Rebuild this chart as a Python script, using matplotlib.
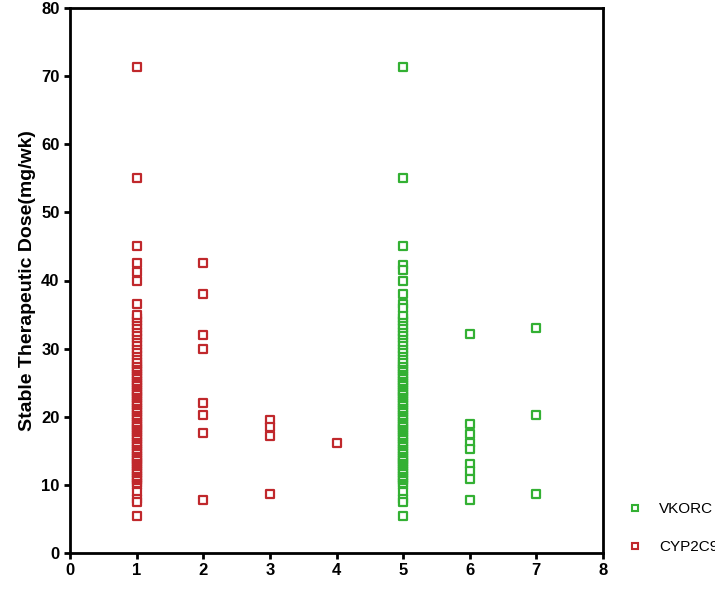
import matplotlib
matplotlib.use("Agg")
import matplotlib.pyplot as plt
from matplotlib.lines import Line2D

plt.rcParams['font.family'] = ['Liberation Sans', 'DejaVu Sans']

dense = [10, 10.3, 10.7, 11, 11.3, 11.7, 12, 12.3, 12.7, 13, 13.3, 13.7, 14, 14.3, 14.7,
         15, 15.3, 15.7, 16, 16.3, 16.7, 17, 17.3, 17.7, 18, 18.3, 18.7, 19, 19.3, 19.7,
         20, 20.3, 20.7, 21, 21.3, 21.7, 22, 22.3, 22.7, 23, 23.3, 23.7, 24, 24.3, 24.7,
         25, 25.3, 25.7, 26, 26.3, 26.7, 27, 27.3, 27.7, 28, 28.5, 29, 29.5, 30, 30.5,
         31, 31.5, 32, 32.5, 33, 33.5, 34, 34.5, 35]
cyp_x1 = [71.4, 55.1, 45, 42.5, 41.2, 40, 36.5, 9, 8, 7.5, 5.5]
cyp_x2 = [42.5, 38, 32, 30, 22, 20.2, 17.6, 7.8]
cyp_x3 = [19.5, 18.5, 17.2, 8.7]
cyp_x4 = [16.2]
vk_x5 = [71.4, 55.1, 45, 42.3, 41.5, 40, 38, 36.5, 36, 9, 8, 7.5, 5.5]
vk_x6 = [32.2, 19, 17.4, 16.2, 15.3, 13, 12, 10.9, 7.8]
vk_x7 = [33, 20.2, 8.7]

cyp_x = [1]*(len(dense)+len(cyp_x1)) + [2]*len(cyp_x2) + [3]*len(cyp_x3) + [4]*len(cyp_x4)
cyp_y = dense + cyp_x1 + cyp_x2 + cyp_x3 + cyp_x4
vk_x = [5]*(len(dense)+len(vk_x5)) + [6]*len(vk_x6) + [7]*len(vk_x7)
vk_y = dense + vk_x5 + vk_x6 + vk_x7

red = "#c0282c"
green = "#33b033"

fig = plt.figure(figsize=(7.15, 5.92), dpi=100)
ax = fig.add_axes([70/715, 1-553/592, 533/715, 545/592])
ax.scatter(cyp_x, cyp_y, marker="s", s=26, facecolors="white", edgecolors=red, linewidths=1.6, zorder=3)
ax.scatter(vk_x, vk_y, marker="s", s=26, facecolors="white", edgecolors=green, linewidths=1.6, zorder=3)
ax.set_xlim(0, 8)
ax.set_ylim(0, 80)
ax.set_xticks(range(0, 9))
ax.set_yticks(range(0, 81, 10))
for s in ax.spines.values():
    s.set_linewidth(2)
ax.tick_params(width=2, length=4, labelsize=12)
for lab in ax.get_xticklabels() + ax.get_yticklabels():
    lab.set_fontweight("bold")
ax.set_ylabel("Stable Therapeutic Dose(mg/wk)", fontsize=14, fontweight="bold")

h = [Line2D([], [], ls="none", marker="s", ms=5, mfc="white", mec=green, mew=1.5),
     Line2D([], [], ls="none", marker="s", ms=5, mfc="white", mec=red, mew=1.5)]
fig.legend(h, ["VKORC", "CYP2C9"], loc="lower left", bbox_to_anchor=(612/715, 30/592),
           frameon=False, fontsize=11, labelspacing=1.6, handletextpad=0.6, borderpad=0)
fig.savefig("out.png", dpi=100)
